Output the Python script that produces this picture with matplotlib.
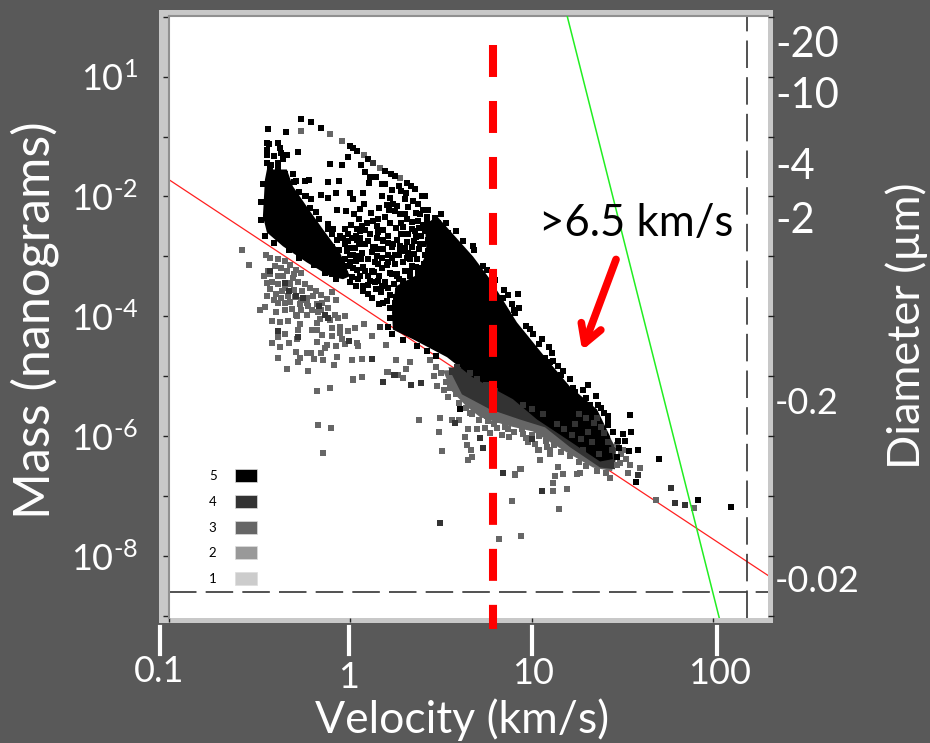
import numpy as np
import matplotlib
matplotlib.use("Agg")
import matplotlib.pyplot as plt
from matplotlib.lines import Line2D
from matplotlib.patches import Patch, Rectangle

plt.rcParams['font.family'] = ['Lato', 'DejaVu Sans']
plt.rcParams['mathtext.fontset'] = 'custom'
plt.rcParams['mathtext.rm'] = 'Lato'
plt.rcParams['mathtext.default'] = 'regular'

# all values are (log10 velocity, log10 mass)
# solid areas, too dense to read point by point
left_blob = [(-0.459, -1.55), (-0.349, -1.55), (-0.316, -1.83), (-0.239, -2.17), (-0.150, -2.55),
             (-0.057, -2.93), (-0.002, -3.33), (-0.040, -3.38), (-0.112, -3.33), (-0.239, -3.10),
             (-0.371, -2.83), (-0.459, -2.60), (-0.481, -2.33), (-0.470, -1.72)]
main_band = [(0.478, -2.33), (0.676, -3.00), (0.770, -3.38), (0.918, -4.10), (1.084, -4.72),
             (1.210, -5.17), (1.359, -5.55), (1.431, -6.00), (1.447, -6.38), (1.376, -6.42),
             (1.194, -6.05), (1.029, -5.72), (0.896, -5.38), (0.676, -5.02), (0.533, -4.68),
             (0.345, -4.38), (0.235, -4.22), (0.230, -3.93), (0.250, -3.50), (0.360, -3.32),
             (0.420, -2.95), (0.412, -2.47)]
fringe_light = [(0.510, -4.90), (0.560, -5.25), (0.640, -5.50), (0.715, -5.68), (0.863, -5.82),
                (1.007, -5.92), (1.194, -6.27), (1.337, -6.52), (1.442, -6.58), (1.464, -6.35),
                (1.376, -5.72), (0.825, -4.88)]
fringe_dark = [(0.540, -4.85), (0.615, -5.30), (0.770, -5.55), (0.935, -5.72), (1.073, -5.85),
               (1.210, -6.18), (1.376, -6.52), (1.458, -6.55), (1.464, -6.20), (1.376, -5.72),
               (0.825, -4.88)]

gray_pts = [(-0.595, -2.90), (-0.558, -3.14), (-0.464, -2.97), (-0.451, -3.24), (-0.473, -3.32),
            (-0.415, -3.16), (-0.396, -3.33), (-0.461, -3.44), (-0.442, -3.55), (-0.461, -3.66),
            (-0.470, -3.84), (-0.497, -3.90), (-0.411, -3.92), (-0.378, -3.58), (-0.350, -3.44),
            (-0.314, -3.36), (-0.341, -3.66), (-0.304, -3.68), (-0.268, -3.58), (-0.240, -3.69),
            (-0.203, -3.66), (-0.359, -3.77), (-0.323, -3.88), (-0.277, -3.80), (-0.231, -3.83),
            (-0.185, -3.80), (-0.157, -3.77), (-0.295, -3.99), (-0.240, -3.97), (-0.139, -3.97),
            (-0.167, -4.05), (-0.084, -3.97), (-0.029, -3.99), (-0.433, -4.07), (-0.387, -4.09),
            (-0.341, -4.08), (-0.277, -4.13), (-0.185, -4.11), (-0.396, -4.24), (-0.359, -4.30),
            (-0.396, -4.34), (-0.433, -4.44), (-0.337, -4.44), (-0.295, -4.38), (-0.286, -4.22),
            (-0.209, -4.22), (-0.185, -4.22), (-0.154, -4.31), (-0.185, -4.42), (-0.130, -4.47),
            (-0.102, -4.20), (-0.056, -4.17), (-0.056, -4.27), (-0.102, -4.32), (-0.011, -4.24),
            (0.026, -4.20), (0.076, -4.12), (-0.047, -4.38), (-0.005, -4.41), (-0.029, -4.46),
            (0.035, -4.44), (0.045, -4.49), (-0.387, -4.51), (-0.299, -4.59), (-0.240, -4.61),
            (-0.216, -4.61), (-0.161, -4.61), (-0.139, -4.53), (-0.079, -4.49), (-0.396, -4.69),
            (-0.277, -4.69), (-0.286, -4.76), (-0.200, -4.71), (-0.152, -4.73), (-0.075, -4.67),
            (-0.088, -4.81), (0.011, -4.73), (0.067, -4.71), (-0.347, -4.88), (-0.231, -4.91),
            (0.017, -5.06), (0.067, -5.01), (-0.185, -5.25), (-0.112, -5.20), (0.122, -4.32),
            (0.195, -4.47), (0.252, -4.73), (0.206, -4.93), (0.265, -4.97),
            # inside the grey cluster
            (-0.44, -3.02), (-0.40, -3.05), (-0.36, -3.08), (-0.33, -3.14), (-0.38, -3.20),
            (-0.35, -3.25), (-0.30, -3.22), (-0.27, -3.28), (-0.43, -3.42), (-0.40, -3.46),
            (-0.36, -3.52), (-0.33, -3.46), (-0.29, -3.42), (-0.25, -3.46), (-0.22, -3.52),
            (-0.41, -3.62), (-0.38, -3.70), (-0.31, -3.56), (-0.27, -3.72), (-0.19, -3.58),
            (-0.16, -3.64), (-0.13, -3.71), (-0.40, -3.78), (-0.33, -3.76), (-0.24, -3.77),
            (-0.21, -3.90), (-0.36, -3.90), (-0.27, -3.90), (-0.18, -3.93), (-0.12, -3.86),
            (-0.10, -3.60), (-0.08, -3.72), (-0.30, -3.97), (-0.16, -3.90), (-0.11, -4.06),
            (-0.07, -4.02), (-0.42, -3.72), (-0.44, -3.30), (-0.37, -3.33), (-0.31, -3.30),
            # lower scatter and fringe
            (0.329, -4.76), (0.204, -4.93), (0.017, -5.05), (0.066, -5.01), (-0.185, -5.24),
            (0.292, -5.02), (0.307, -4.88), (0.476, -5.16), (0.518, -5.22), (0.494, -5.69),
            (0.380, -5.73), (0.559, -5.73), (0.601, -5.72), (-0.176, -5.81), (-0.104, -5.86),
            (-0.152, -6.28), (0.487, -5.93), (0.650, -5.88), (0.632, -6.01), (0.770, -5.95),
            (0.834, -5.98), (0.876, -6.01), (0.641, -6.15), (0.665, -6.22), (0.504, -6.25),
            (0.650, -6.40), (0.672, -6.34), (0.908, -6.64), (0.939, -6.54), (0.893, -7.08),
            (0.941, -7.67), (0.819, -7.71), (1.040, -6.22), (1.045, -6.39), (1.086, -6.17),
            (0.966, -6.03), (0.660, -5.61), (0.696, -5.88), (0.742, -5.86), (0.807, -5.86),
            (0.871, -5.88), (0.944, -5.88), (0.898, -5.74), (0.825, -5.72), (0.751, -5.66),
            (1.486, -6.44), (1.541, -6.47), (1.597, -6.53), (1.532, -6.62), (1.431, -6.69),
            (1.266, -6.61), (1.247, -6.63), (1.174, -6.63), (1.128, -6.66), (1.147, -6.52),
            (1.046, -6.39), (1.036, -6.22), (1.101, -6.22), (0.935, -6.54), (0.908, -6.63),
            (1.115, -6.78), (1.193, -6.88), (1.119, -6.91), (1.152, -7.21), (1.685, -7.06),
            (1.894, -7.20), (1.684, -7.06), (-0.274, -0.90), (-0.112, -0.95), (-0.048, -1.07),
            (0.077, -1.30), (0.164, -1.52), (0.274, -1.70),
            # rough lower edge of the band
            (0.44, -4.72), (0.47, -4.84), (0.50, -4.95), (0.46, -5.00), (0.53, -5.10),
            (0.55, -5.20), (0.58, -5.30), (0.54, -5.34), (0.60, -5.44), (0.64, -5.52),
            (0.67, -5.62), (0.71, -5.72), (0.76, -5.74), (0.79, -5.80), (0.85, -5.85),
            (0.90, -5.92), (0.95, -5.96), (1.00, -5.98), (1.04, -6.00), (1.08, -6.08),
            (1.12, -6.14), (1.16, -6.26), (1.21, -6.33), (1.26, -6.42), (1.30, -6.50),
            (1.36, -6.58), (1.41, -6.62), (1.47, -6.48), (1.49, -6.30), (1.47, -6.15),
            (1.50, -6.22), (1.52, -6.38), (1.10, -6.30), (1.02, -6.12), (0.98, -6.10)]

dark_pts = [(-0.44, -3.24), (-0.36, -3.44), (-0.34, -3.58), (-0.30, -3.66), (-0.26, -3.69),
            (-0.17, -3.83), (-0.14, -3.97), (-0.12, -4.02), (-0.286, -4.35), (-0.396, -4.24),
            (0.122, -4.71), (0.179, -5.09), (0.247, -4.98), (0.164, -4.17), (-0.005, -4.41),
            (0.243, -4.98), (0.178, -5.10), (0.335, -5.15), (0.390, -5.11), (0.577, -5.78),
            (0.715, -6.03), (0.729, -6.20), (0.843, -6.62), (1.054, -6.91), (0.494, -7.44),
            (1.003, -6.05), (1.055, -6.91), (1.767, -6.86), (1.765, -6.86), (1.789, -7.11),
            (1.844, -7.15), (1.587, -6.64), (0.127, -1.44),
            # patches over the black band
            (1.26, -5.62), (1.30, -5.70), (1.34, -5.78), (1.38, -5.85), (1.36, -5.70),
            (1.40, -5.95), (1.42, -6.10), (1.44, -6.22), (1.18, -5.88), (1.14, -5.80),
            (1.22, -5.98), (1.27, -6.05), (1.06, -5.62), (1.00, -5.55), (0.95, -5.48),
            (0.66, -4.95), (0.70, -5.05), (0.75, -5.15), (0.80, -5.25), (0.59, -4.85),
            (1.31, -5.92), (1.24, -5.80), (1.33, -6.10), (1.28, -6.22), (1.37, -6.30),
            (0.61, -5.05), (0.56, -4.92), (0.66, -5.20), (0.72, -5.30), (0.84, -5.42)]

black_pts = [(-0.452, -0.87), (-0.355, -0.92), (-0.274, -0.70), (-0.217, -0.76), (-0.160, -0.85),
             (-0.290, -1.26), (-0.461, -1.11), (-0.447, -1.12), (-0.458, -1.22), (-0.461, -1.30),
             (-0.397, -1.10), (-0.388, -1.19), (-0.379, -1.27), (-0.421, -1.33), (-0.351, -1.30),
             (-0.369, -1.37), (-0.397, -1.44), (-0.458, -1.44), (-0.439, -1.48), (-0.314, -1.63),
             (-0.309, -1.76), (-0.250, -1.75), (-0.226, -1.73), (-0.112, -1.46), (-0.048, -1.48),
             (-0.120, -1.76), (-0.063, -1.75), (-0.162, -1.97), (-0.241, -1.99), (-0.217, -2.05),
             (-0.120, -2.02), (-0.076, -1.95), (-0.002, -1.94), (-0.072, -2.22), (-0.024, -2.24),
             (0.016, -2.05), (0.071, -1.95), (0.053, -2.21), (0.077, -2.12), (0.049, -2.38),
             (0.002, -2.48), (0.035, -2.55), (-0.002, -1.16), (0.017, -1.19), (0.035, -1.24),
             (-0.015, -1.34), (0.099, -1.37), (0.191, -1.58), (0.224, -1.62), (0.246, -1.66),
             (0.310, -1.77), (0.333, -1.83), (0.356, -1.87), (0.393, -1.99), (0.411, -1.99),
             (0.059, -1.48), (0.081, -1.60), (0.109, -1.68), (0.140, -1.68), (0.105, -1.77),
             (0.173, -1.80), (0.191, -1.80), (0.228, -1.90), (0.268, -1.83), (0.279, -1.91),
             (0.307, -1.95), (0.173, -1.99), (0.219, -2.02), (0.301, -2.05), (0.347, -2.08),
             (0.375, -2.13), (0.233, -2.12), (0.213, -2.22), (0.246, -2.24), (0.274, -2.30),
             (0.301, -2.30), (0.310, -2.38), (0.154, -2.38), (0.127, -2.41), (0.114, -2.28),
             (0.050, -2.38), (0.063, -2.49), (0.292, -2.51), (0.338, -2.55), (0.356, -2.58),
             (0.182, -2.56), (0.154, -2.60), (0.301, -2.63), (0.054, -2.58), (0.031, -2.66),
             (-0.011, -2.62), (0.035, -2.73), (0.072, -2.80), (0.182, -2.72), (0.210, -2.77),
             (0.237, -2.80), (0.127, -2.84), (0.145, -2.87), (0.182, -2.87), (0.274, -2.83),
             (0.283, -2.91), (0.246, -2.97), (0.320, -2.94), (0.173, -3.02), (0.136, -3.10),
             (0.210, -2.97), (0.402, -2.80), (0.384, -2.80), (0.430, -2.91), (0.467, -2.83),
             (0.406, -3.12), (0.329, -3.05), (0.338, -3.16), (0.292, -3.10), (0.246, -3.13),
             (0.173, -3.19), (0.072, -3.17), (0.081, -3.24), (0.109, -3.41), (0.136, -3.43),
             (0.173, -3.49), (0.219, -3.27), (0.256, -3.33), (0.292, -3.41), (0.329, -3.33),
             (0.375, -3.27), (0.421, -3.30), (0.476, -3.19), (0.017, -2.97), (-0.020, -2.91),
             (-0.002, -3.10), (0.035, -3.22), (0.054, -3.33), (0.072, -3.49), (0.026, -2.86),
             (-0.057, -2.66), (-0.094, -2.55), (-0.121, -2.55), (-0.075, -2.72), (-0.029, -3.05),
             (0.402, -2.22), (0.430, -2.22), (0.384, -2.30), (0.421, -2.34), (0.467, -2.36),
             (0.375, -2.41), (0.402, -2.47), (0.448, -2.47), (0.485, -2.44), (0.412, -2.58),
             (0.467, -2.55), (0.512, -2.55), (0.540, -2.61), (0.448, -2.66), (0.494, -2.69),
             (-0.011, -2.74), (0.054, -2.69), (0.081, -2.80), (-0.001, -2.97), (0.063, -2.94),
             (0.136, -2.85), (0.182, -2.74), (0.228, -2.85), (0.274, -2.88), (0.155, -3.13),
             (0.210, -3.10), (0.118, -3.24), (0.072, -3.19), (0.017, -3.19), (-0.029, -3.30),
             (0.045, -3.38), (0.100, -3.47), (0.155, -3.41), (0.228, -3.30), (0.265, -3.58),
             (0.118, -3.69), (0.182, -3.77), (0.247, -3.77), (0.274, -3.91), (-0.075, -3.19),
             (-0.102, -3.30), (-0.139, -3.13), (-0.047, -3.08), (0.605, -5.54),
             (0.678, -2.83), (0.755, -3.22), (0.847, -3.56), (0.867, -3.65), (0.924, -3.63),
             (0.889, -3.80), (0.932, -3.86), (0.908, -3.95), (0.990, -4.21), (1.009, -4.30),
             (1.058, -4.38), (1.095, -4.51), (1.110, -4.61), (1.073, -4.69), (1.119, -4.74),
             (1.147, -4.83), (1.174, -4.91), (1.211, -5.05), (1.229, -5.19), (1.284, -5.23),
             (1.312, -5.14), (1.354, -5.32), (1.367, -5.47), (1.321, -5.48), (1.395, -5.61),
             (1.418, -5.66), (1.418, -5.81), (1.541, -5.64), (1.547, -5.93), (1.505, -5.96),
             (1.514, -6.08), (1.587, -6.23), (1.538, -6.24), (1.703, -6.37), (1.573, -6.76),
             (1.473, -6.07), (1.468, -6.34), (1.917, -7.06), (2.096, -7.18),
             # denser part between the blob and the band
             (0.00, -3.42), (0.03, -3.50), (0.07, -3.58), (0.10, -3.32), (0.13, -3.26),
             (0.16, -3.32), (0.19, -3.42), (0.21, -3.52), (0.24, -3.46), (0.27, -3.38),
             (0.30, -3.24), (0.33, -3.24), (0.36, -3.18), (0.39, -3.20), (0.42, -3.16),
             (0.44, -3.04), (0.41, -2.98), (0.37, -3.04), (0.35, -2.96), (0.31, -3.02),
             (0.27, -2.98), (0.23, -3.03), (0.20, -3.15), (0.15, -3.00), (0.12, -2.92),
             (0.10, -3.04), (0.06, -3.04), (0.03, -3.08), (-0.02, -3.16), (-0.06, -3.22),
             (-0.09, -3.08), (-0.12, -3.00), (-0.16, -2.98), (-0.19, -2.90), (-0.14, -2.80),
             (-0.10, -2.84), (-0.06, -2.90), (-0.03, -2.80), (0.00, -2.86), (0.05, -2.80),
             (0.10, -2.74), (0.15, -2.70), (0.21, -2.66), (0.26, -2.72), (0.31, -2.76),
             (0.35, -2.74), (0.39, -2.66), (0.43, -2.72), (0.38, -2.88), (0.34, -2.84),
             (0.30, -2.86), (0.26, -3.30), (0.22, -3.64), (0.17, -3.60), (0.14, -3.55),
             (0.10, -3.62), (0.20, -3.74), (0.16, -3.80), (0.22, -3.86), (0.25, -3.68),
             (0.31, -3.50), (0.35, -3.42), (0.39, -3.34), (0.44, -3.25), (0.48, -3.08),
             (0.50, -2.94), (0.48, -2.78), (0.45, -2.60), (0.42, -2.44), (0.38, -2.52),
             (0.36, -2.68), (0.32, -2.62), (0.28, -2.62), (0.25, -2.52), (0.22, -2.44),
             (0.19, -2.34), (0.15, -2.50), (0.11, -2.62), (0.08, -2.56), (0.09, -2.44),
             (0.01, -2.70), (-0.03, -2.54), (0.02, -2.30), (0.16, -2.20), (0.20, -2.14),
             (0.26, -2.16), (0.32, -2.18), (0.36, -2.28), (0.34, -2.42), (0.28, -2.44),
             # rough edges of the solid areas
             (-0.30, -1.75), (-0.28, -1.92), (-0.25, -2.00), (-0.22, -2.20), (-0.19, -2.26),
             (-0.17, -2.38), (-0.12, -2.46), (-0.10, -2.62), (-0.04, -2.70), (-0.02, -2.90),
             (0.03, -3.00), (-0.36, -1.62), (-0.40, -1.52), (-0.44, -1.54), (-0.48, -1.80),
             (-0.49, -2.10), (-0.49, -2.40), (-0.47, -2.66), (-0.42, -2.78), (-0.34, -2.90),
             (-0.28, -3.02), (-0.20, -3.14), (-0.14, -3.28), (-0.08, -3.38), (0.01, -3.34),
             (0.50, -2.30), (0.53, -2.44), (0.58, -2.58), (0.62, -2.74), (0.68, -2.90),
             (0.73, -3.16), (0.80, -3.40), (0.84, -3.70), (0.90, -3.90), (0.97, -4.16),
             (1.04, -4.46), (1.10, -4.76), (1.16, -4.98), (1.24, -5.26), (1.30, -5.36),
             (1.38, -5.52), (1.42, -5.74), (1.45, -5.92), (1.48, -6.20), (0.23, -4.30),
             (0.21, -4.18), (0.22, -4.02), (0.29, -4.40), (0.37, -4.50), (0.42, -4.58),
             (0.47, -4.66), (0.25, -4.10)]

# lines, (velocity, mass)
red_line_v, red_line_m = [0.1, 200], [10**-1.717, 10**-8.32]
green_line_v, green_line_m = [15.6, 107.6], [10**1.03, 10**-9.02]
dash_v, dash_m = 153, 2.5e-9
limit_v, limit_m_ends = 6.1, [3.4, 10**-9.22]

levels = ['5', '4', '3', '2', '1']
level_colors = ['#000000', '#333333', '#666666', '#999999', '#cccccc']
decades = [10.0**e for e in range(1, -10, -1)]
mass_labels = ['', '$10^{1}$', '', r'$10^{\text{-2}}$', '', r'$10^{\text{-4}}$', '',
               r'$10^{\text{-6}}$', '', r'$10^{\text{-8}}$', '']
diam_labels = ['-20', '-10', '-4', '-2', '-0.2', '-0.02']
diam_y = [45, 96, 167, 221, 403, 581]
diam_size = [30, 30, 30, 30, 26, 26]
vel_labels = ['0.1', '1', '10', '100']
vel_x = [159, 349, 533, 720]
vel_y = [672, 678, 674, 674]
bar_x = [159.5, 349, 532, 717]

W, H = 930, 743
bg = '#595959'
fig = plt.figure(figsize=(W / 100, H / 100), dpi=100, facecolor=bg)


def fx(px):
    return px / W


def fy(py):
    return 1 - py / H


# light grey band round the plot
fig.add_artist(Rectangle((fx(159), fy(623)), 614 / W, 613 / H, transform=fig.transFigure,
                         fc='#c8c8c8', ec='none', zorder=-1))
ax = fig.add_axes([fx(168.7), fy(618), 599.3 / W, 602 / H])
ax.set_xscale('log')
ax.set_yscale('log')
ax.set_xlim(0.1, 200)
ax.set_ylim(10**-9.03, 10**1.01)
for side in ['left', 'top']:
    ax.spines[side].set_color('#909090')
    ax.spines[side].set_linewidth(1.5)
for side in ['right', 'bottom']:
    ax.spines[side].set_visible(False)

ax.set_xticks([0.1, 1, 10, 100])
ax.set_xticklabels([])
ax.xaxis.set_minor_locator(matplotlib.ticker.NullLocator())
ax.yaxis.set_minor_locator(matplotlib.ticker.NullLocator())
ax.set_yticks(decades)
ax.set_yticklabels(mass_labels, fontsize=26, color='white')
ax.tick_params(axis='y', which='major', length=4, width=1, color='#222222', pad=18, right=True)
ax.tick_params(axis='x', which='major', length=3, width=1, color='#222222')

ax.plot(red_line_v, red_line_m, color='#ff2020', lw=0.9, zorder=1)
ax.plot(green_line_v, green_line_m, color='#22ee22', lw=1.1, zorder=6)
ax.axhline(dash_m, color='#222222', lw=1.1, dashes=(18, 6), zorder=2)
ax.axvline(dash_v, color='#222222', lw=1.1, dashes=(18, 6), zorder=2)


def fill_area(area, color, z):
    pts = np.array(area)
    ax.fill(10**pts[:, 0], 10**pts[:, 1], color=color, lw=0, zorder=z)


def dots(pts, color, z):
    pts = np.array(pts)
    ax.scatter(10**pts[:, 0], 10**pts[:, 1], marker='s', s=13, color=color, lw=0, zorder=z)


fill_area(fringe_light, '#666666', 3)
fill_area(fringe_dark, '#333333', 3.1)
dots(gray_pts, '#666666', 3.2)
fill_area(left_blob, '#000000', 4)
fill_area(main_band, '#000000', 4)
dots(black_pts, '#000000', 4.1)
dots(dark_pts, '#333333', 4.2)

ax.plot([limit_v, limit_v], limit_m_ends, color='#ff0000', lw=5.8, dashes=(3.97, 2.98),
        clip_on=False, zorder=8)

ax.annotate('', xy=(10**1.277, 10**-4.567), xytext=(10**1.464, 10**-3.05),
            arrowprops=dict(arrowstyle='->,head_length=1.3,head_width=0.75', color='#ff0000', lw=5.5,
                            shrinkA=0, shrinkB=0), zorder=9)

handles = [Patch(fc=c, ec='#dddddd', lw=0.5) for c in level_colors]
ax.legend(handles, levels, loc='lower right', bbox_to_anchor=(0.147, 0.055), frameon=False,
          markerfirst=False, fontsize=9.5, handlelength=1.65, handleheight=1.15,
          labelspacing=0.95, handletextpad=1.4, borderpad=0, borderaxespad=0)

for s, y, size in zip(diam_labels, diam_y, diam_size):
    fig.text(fx(775), fy(y), s, color='white', fontsize=size, ha='left', va='center')
for x in bar_x:
    fig.add_artist(Line2D([fx(x), fx(x)], [fy(627), fy(654)], color='white', lw=3))
for s, x, y in zip(vel_labels, vel_x, vel_y):
    fig.text(fx(x), fy(y), s, color='white', fontsize=26, ha='center', va='center')

fig.text(fx(462), fy(720), 'Velocity (km/s)', color='white', fontsize=32, ha='center', va='center')
fig.text(fx(35), fy(320), 'Mass (nanograms)', color='white', fontsize=36.4, rotation=90, ha='center', va='center')
fig.text(fx(907), fy(326), 'Diameter (µm)', color='white', fontsize=32.5, rotation=90, ha='center', va='center')
fig.text(fx(636), fy(224), '>6.5 km/s', color='black', fontsize=31.5, ha='center', va='center', zorder=10)

fig.savefig('out.png', dpi=100, facecolor=bg)
